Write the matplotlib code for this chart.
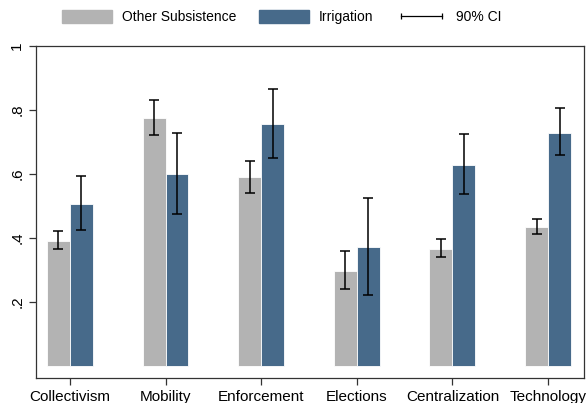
import numpy as np
import matplotlib
matplotlib.use("Agg")
import matplotlib.pyplot as plt
from matplotlib.patches import Patch
from matplotlib.lines import Line2D

plt.rcParams['font.family'] = ['Liberation Sans', 'DejaVu Sans']

# data
categories = ["Collectivism", "Mobility", "Enforcement", "Elections",
              "Centralization", "Technology"]
other_mean = [0.392, 0.775, 0.591, 0.298, 0.366, 0.434]
other_lo   = [0.366, 0.722, 0.541, 0.240, 0.341, 0.412]
other_hi   = [0.422, 0.831, 0.641, 0.359, 0.397, 0.459]
irr_mean   = [0.506, 0.600, 0.756, 0.372, 0.628, 0.728]
irr_lo     = [0.425, 0.475, 0.650, 0.222, 0.538, 0.659]
irr_hi     = [0.594, 0.728, 0.866, 0.525, 0.725, 0.806]

GRAY = "#b3b3b3"
BLUE = "#476a8a"

x = np.arange(len(categories))
w = 0.24

fig = plt.figure(figsize=(5.86, 4.03), dpi=100)
ax = fig.add_axes([0.0614, 0.062, 0.935, 0.824])

om, im_ = np.array(other_mean), np.array(irr_mean)
ax.bar(x - w / 2, om, w, color=GRAY, edgecolor="white", linewidth=0.6)
ax.bar(x + w / 2, im_, w, color=BLUE, edgecolor="white", linewidth=0.6)

ax.errorbar(x - w / 2, om, yerr=[om - np.array(other_lo), np.array(other_hi) - om],
            fmt="none", ecolor="black", elinewidth=1.1, capsize=3.5, capthick=1.1)
ax.errorbar(x + w / 2, im_, yerr=[im_ - np.array(irr_lo), np.array(irr_hi) - im_],
            fmt="none", ecolor="black", elinewidth=1.1, capsize=3.5, capthick=1.1)

ax.set_xlim(-0.355, 5.375)
ax.set_ylim(-0.0375, 1.0)
ax.set_xticks(x)
ax.set_xticklabels(categories, fontsize=11)
ax.set_yticks([0.2, 0.4, 0.6, 0.8, 1.0])
ax.set_yticklabels([".2", ".4", ".6", ".8", "1"], rotation=90, va="center",
                   fontsize=11)
ax.tick_params(direction="out", length=5, width=0.9, color="#333333")
for s in ax.spines.values():
    s.set_linewidth(0.9)
    s.set_color("#333333")

handles = [Patch(facecolor=GRAY, edgecolor=GRAY),
           Patch(facecolor=BLUE, edgecolor=BLUE),
           Line2D([0], [0], color="black", lw=0.9, marker="|", markersize=5,
                  markeredgewidth=0.9)]
labels = ["Other Subsistence", "Irrigation", "90% CI"]
fig.legend(handles, labels, loc="upper center", bbox_to_anchor=(0.481, 1.006),
           ncol=3, frameon=False, fontsize=10, handlelength=3.6, numpoints=2,
           handleheight=1.0, columnspacing=1.65, handletextpad=0.72)

fig.savefig("out.png", dpi=100)
